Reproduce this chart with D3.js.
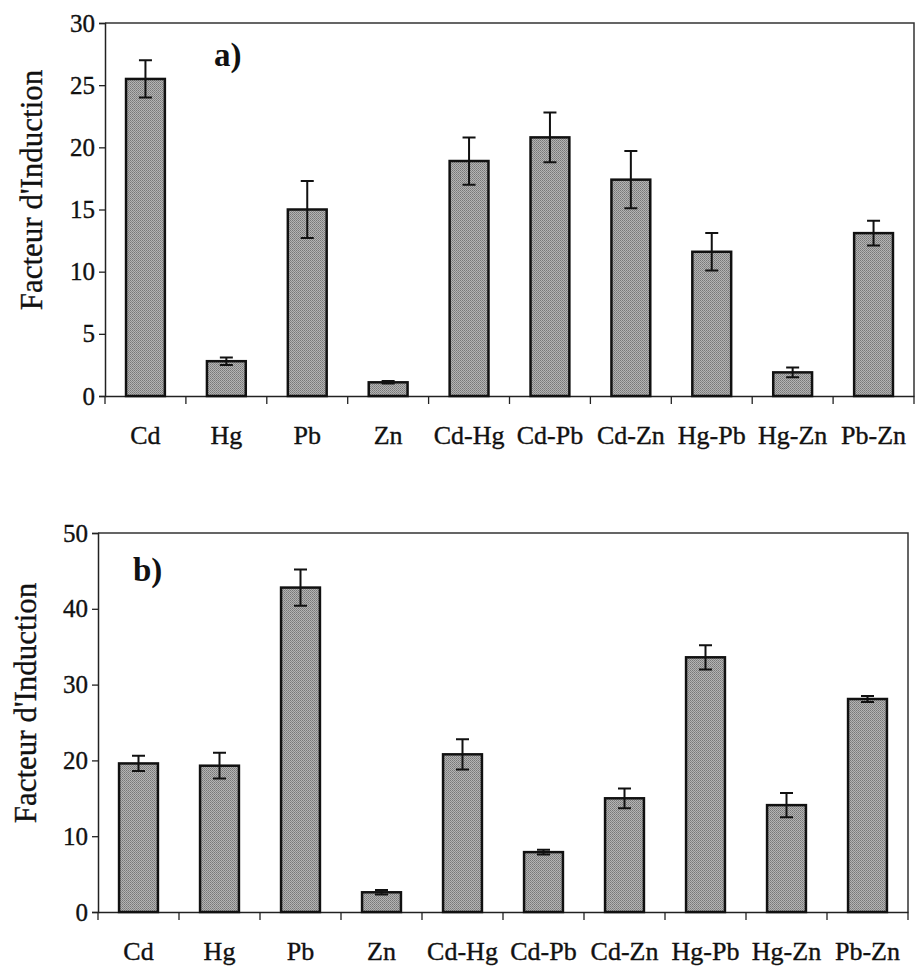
<!DOCTYPE html>
<html>
<head>
<meta charset="utf-8">
<script src="https://cdn.jsdelivr.net/npm/d3@7"></script>
<style>
  html, body { margin: 0; padding: 0; background: #fff; }
  svg { display: block; }
</style>
</head>
<body>
<svg id="chart" width="916" height="968"></svg>
<script>
// Facteur d'induction per metal / metal pair, two experiments (a, b)
const categories = ["Cd", "Hg", "Pb", "Zn", "Cd-Hg", "Cd-Pb", "Cd-Zn", "Hg-Pb", "Hg-Zn", "Pb-Zn"];

const valuesA = [25.5, 2.8, 15.0, 1.1, 18.9, 20.8, 17.4, 11.6, 1.9, 13.1];
const errorsA = [1.5, 0.3, 2.3, 0.1, 1.9, 2.0, 2.3, 1.5, 0.4, 1.0];
const ticksA = [0, 5, 10, 15, 20, 25, 30];

const valuesB = [19.6, 19.3, 42.8, 2.6, 20.8, 7.9, 15.0, 33.6, 14.1, 28.1];
const errorsB = [1.0, 1.7, 2.4, 0.3, 2.0, 0.3, 1.3, 1.6, 1.6, 0.4];
const ticksB = [0, 10, 20, 30, 40, 50];

const yTitle = "Facteur d'Induction";
const SERIF = "'Liberation Serif', 'Times New Roman', Times, serif";

const svg = d3.select("#chart");

// halftone-like grey fill for the bars
const defs = svg.append("defs");
const pat = defs.append("pattern")
  .attr("id", "halftone")
  .attr("patternUnits", "userSpaceOnUse")
  .attr("width", 2).attr("height", 2);
pat.append("rect").attr("width", 2).attr("height", 2).attr("fill", "#b4b4b4");
pat.append("rect").attr("width", 1).attr("height", 1).attr("fill", "#787878");
pat.append("rect").attr("x", 1).attr("y", 1).attr("width", 1).attr("height", 1).attr("fill", "#888");

function serif(sel, size, weight) {
  sel.style("font-family", SERIF)
    .style("font-size", size + "px")
    .style("font-weight", weight || "normal")
    .style("fill", "#111")
    .style("stroke", "#111")
    .style("stroke-width", weight ? 0 : 0.35);
}

function panel(cfg) {
  const g = svg.append("g");
  const x = d3.scaleBand()
    .domain(categories)
    .range([cfg.left, cfg.right])
    .paddingInner(0.52)
    .paddingOuter(0.26);
  const y = d3.scaleLinear()
    .domain([0, d3.max(cfg.ticks)])
    .range([cfg.bottom, cfg.top]);

  const step = x.step();
  const data = categories.map((c, i) => ({ c, v: cfg.values[i], e: cfg.errors[i] }));

  // frame: top and right edges
  g.append("path")
    .attr("d", `M${cfg.left},${cfg.top}H${cfg.right}V${cfg.bottom}`)
    .attr("fill", "none")
    .attr("stroke", "#333")
    .attr("stroke-width", 1.5);

  // y axis
  const yAxis = g.append("g")
    .attr("transform", `translate(${cfg.left},0)`)
    .call(d3.axisLeft(y).tickValues(cfg.ticks).tickSize(6).tickPadding(4).tickFormat(d3.format("d")));
  yAxis.select(".domain").attr("stroke", "#222").attr("stroke-width", 1.5);
  yAxis.selectAll(".tick line").attr("stroke", "#222").attr("stroke-width", 1.3);
  serif(yAxis.selectAll(".tick text"), 25);

  // x axis: labels under bands, ticks between bands
  const xAxis = g.append("g")
    .attr("transform", `translate(0,${cfg.bottom})`)
    .call(d3.axisBottom(x).tickSize(0).tickPadding(cfg.labelPad));
  xAxis.select(".domain").attr("stroke", "#222").attr("stroke-width", 1.5);
  serif(xAxis.selectAll(".tick text"), 26);
  const boundaries = categories.slice(1).map(c => x(c) - step * x.paddingInner() / 2);
  g.append("g").selectAll("line")
    .data(boundaries.concat([cfg.left, cfg.right]))
    .join("line")
    .attr("x1", d => d).attr("x2", d => d)
    .attr("y1", cfg.bottom).attr("y2", cfg.bottom + 8)
    .attr("stroke", "#222").attr("stroke-width", 1.3);

  // bars
  g.append("g").selectAll("rect")
    .data(data)
    .join("rect")
    .attr("x", d => x(d.c))
    .attr("y", d => y(d.v))
    .attr("width", x.bandwidth())
    .attr("height", d => y(0) - y(d.v))
    .attr("fill", "url(#halftone)")
    .attr("stroke", "#111")
    .attr("stroke-width", 2.5);

  // error bars
  const cap = 6.5;
  const eb = g.append("g").attr("stroke", "#111").attr("stroke-width", 2).attr("fill", "none");
  eb.selectAll("path")
    .data(data)
    .join("path")
    .attr("d", d => {
      const cx = x(d.c) + x.bandwidth() / 2;
      const y1 = y(d.v + d.e), y2 = y(d.v - d.e);
      return `M${cx - cap},${y1}H${cx + cap}M${cx},${y1}V${y2}M${cx - cap},${y2}H${cx + cap}`;
    });

  // axis title
  g.append("text")
    .attr("transform", `translate(${cfg.titleX},${cfg.titleY}) rotate(-90)`)
    .attr("text-anchor", "middle")
    .call(serif, 31)
    .text(yTitle);

  // panel tag
  g.append("text")
    .attr("x", cfg.tagX).attr("y", cfg.tagY)
    .call(serif, 33, "bold")
    .text(cfg.tag);
}

panel({
  values: valuesA, errors: errorsA, ticks: ticksA,
  left: 105, right: 914, top: 23, bottom: 396,
  labelPad: 30, titleX: 42, titleY: 190,
  tag: "a)", tagX: 214, tagY: 66
});

panel({
  values: valuesB, errors: errorsB, ticks: ticksB,
  left: 98, right: 908, top: 533, bottom: 912,
  labelPad: 30, titleX: 36, titleY: 703,
  tag: "b)", tagX: 133, tagY: 581
});
</script>
</body>
</html>
